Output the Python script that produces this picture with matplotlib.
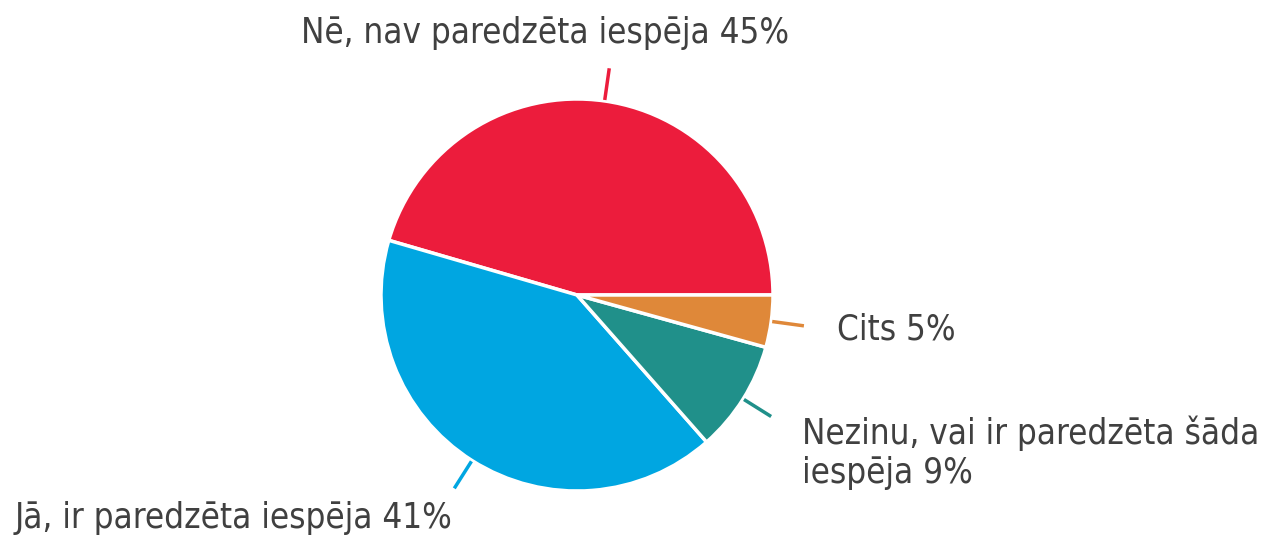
import numpy as np
import matplotlib
matplotlib.use("Agg")
import matplotlib.pyplot as plt

# slice values (percent), order counterclockwise from 3 o'clock
labels = ["Nē, nav paredzēta iespēja 45%",
          "Jā, ir paredzēta iespēja 41%",
          "Nezinu, vai ir paredzēta šāda\niespēja 9%",
          "Cits 5%"]
values = [45.5, 41.0, 9.2, 4.3]
colors = ["#EC1C3C", "#00A6E1", "#20908A", "#DF8839"]

W, H = 1274, 535
fig = plt.figure(figsize=(W / 100, H / 100), dpi=100)
ax = fig.add_axes([0, 0, 1, 1])

cx, cy, r = 577, H - 295, 196
wedges, _ = ax.pie(values, colors=colors, startangle=0, counterclock=True,
                   center=(cx, cy), radius=r,
                   wedgeprops=dict(edgecolor="white", linewidth=2.5))

# leader lines at the middle of each slice
for w, c in zip(wedges, colors):
  ang = np.deg2rad((w.theta1 + w.theta2) / 2)
  r0, r1 = r + 1, r + 33
  ax.plot([cx + r0 * np.cos(ang), cx + r1 * np.cos(ang)],
          [cy + r0 * np.sin(ang), cy + r1 * np.sin(ang)],
          color=c, lw=2.5, solid_capstyle="butt")

font = dict(family="DejaVu Sans", fontstretch="condensed", fontsize=25, color="#404040")
# label anchor positions (pixels, y measured from top)
spots = [(545, 43, "center"), (15, 528, "left"), (802, 483, "left"), (837, 340, "left")]
for lab, (x, y, ha) in zip(labels, spots):
  ax.text(x, H - y, lab, ha=ha, va="baseline", linespacing=1.2, **font)

ax.set_xlim(0, W)
ax.set_ylim(0, H)
ax.set_aspect("equal")
ax.axis("off")

fig.savefig("out.png", dpi=100)
